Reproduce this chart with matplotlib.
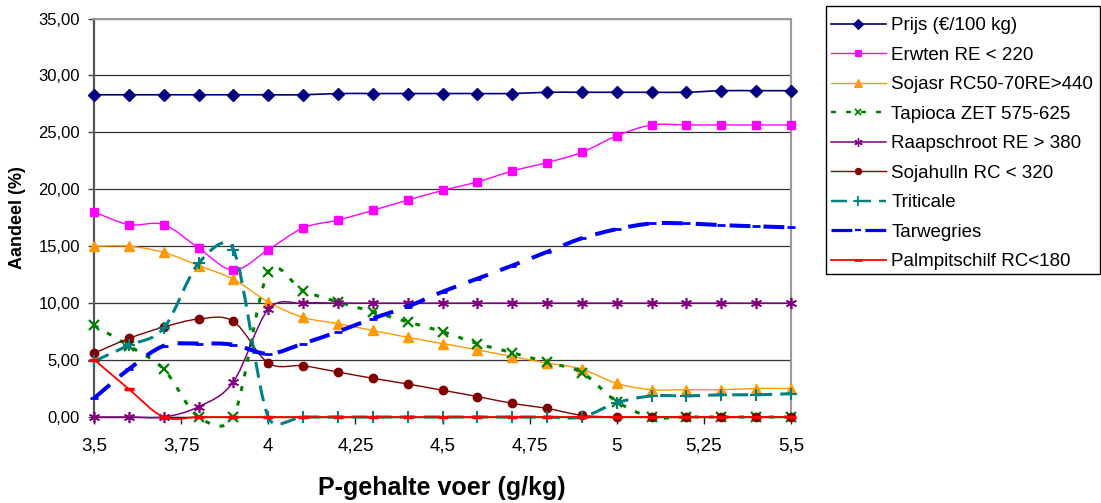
import numpy as np
import matplotlib
matplotlib.use("Agg")
import matplotlib.pyplot as plt
from matplotlib.path import Path
from matplotlib.patches import PathPatch, Rectangle
from matplotlib.lines import Line2D
from matplotlib.ticker import MultipleLocator, FuncFormatter

plt.rcParams['font.family'] = ['Liberation Sans', 'DejaVu Sans']
plt.rcParams['lines.scale_dashes'] = False

# P-gehalte voer (g/kg)
p_gehalte = [3.5, 3.6, 3.7, 3.8, 3.9, 4.0, 4.1, 4.2, 4.3, 4.4, 4.5,
             4.6, 4.7, 4.8, 4.9, 5.0, 5.1, 5.2, 5.3, 5.4, 5.5]

prijs = [28.30, 28.30, 28.30, 28.30, 28.30, 28.30, 28.30, 28.41, 28.41, 28.41, 28.41,
         28.41, 28.41, 28.52, 28.52, 28.52, 28.52, 28.52, 28.66, 28.66, 28.66]
erwten = [18.0, 16.9, 16.9, 14.85, 12.9, 14.7, 16.6, 17.3, 18.15, 19.05, 19.9,
          20.65, 21.6, 22.35, 23.25, 24.7, 25.65, 25.65, 25.65, 25.65, 25.65]
sojasr = [15.0, 15.0, 14.45, 13.3, 12.1, 10.1, 8.75, 8.2, 7.6, 7.0, 6.45,
          5.9, 5.3, 4.75, 4.2, 2.95, 2.4, 2.4, 2.4, 2.5, 2.5]
tapioca = [8.05, 6.25, 4.2, 0.0, 0.0, 12.7, 11.1, 10.1, 9.25, 8.35, 7.5,
           6.45, 5.65, 4.8, 3.9, 1.35, 0.0, 0.0, 0.0, 0.0, 0.0]
raapschroot = [0.0, 0.0, 0.0, 0.9, 3.1, 9.45, 10.0, 10.0, 10.0, 10.0, 10.0,
               10.0, 10.0, 10.0, 10.0, 10.0, 10.0, 10.0, 10.0, 10.0, 10.0]
sojahulln = [5.6, 6.9, 7.9, 8.6, 8.4, 4.75, 4.5, 3.95, 3.4, 2.9, 2.35,
             1.8, 1.2, 0.75, 0.15, 0.0, 0.0, 0.0, 0.0, 0.0, 0.0]
triticale = [4.9, 6.3, 7.8, 13.5, 14.7, 0.0, 0.0, 0.0, 0.0, 0.0, 0.0,
             0.0, 0.0, 0.0, 0.0, 1.25, 1.85, 1.85, 1.95, 1.95, 2.05]
tarwegries = [1.65, 4.2, 6.25, 6.45, 6.35, 5.55, 6.45, 7.5, 8.65, 9.7, 11.0,
              12.15, 13.3, 14.5, 15.7, 16.5, 17.0, 17.0, 16.85, 16.75, 16.65]
palmpitschilf = [5.05, 2.45, 0.0, 0.0, 0.0, 0.0, 0.0, 0.0, 0.0, 0.0, 0.0,
                 0.0, 0.0, 0.0, 0.0, 0.0, 0.0, 0.0, 0.0, 0.0, 0.0]

labels = ['Prijs (€/100 kg)', 'Erwten RE < 220', 'Sojasr RC50-70RE>440',
          'Tapioca ZET 575-625', 'Raapschroot RE > 380', 'Sojahulln RC < 320',
          'Triticale', 'Tarwegries', 'Palmpitschilf RC<180']

# axes box in figure pixels
X0, X1, Y0, Y1 = 94, 791, 18.5, 417
SX = (X1 - X0) / 2.0      # px per g/kg
SY = (Y1 - Y0) / 35.0     # px per %


def smooth_path(x, y):
    # excel style smoothing: bezier arms of 1/6, capped at half the segment (in pixels)
    pts = np.column_stack([x, y]).astype(float) * [SX, SY]
    n = len(pts)
    verts = [pts[0]]
    codes = [Path.MOVETO]
    for i in range(n - 1):
        p1 = pts[i]
        p2 = pts[i + 1]
        p0 = pts[i - 1] if i > 0 else p1
        p3 = pts[i + 2] if i + 2 < n else p2
        d12 = np.hypot(*(p2 - p1))
        d02 = np.hypot(*(p2 - p0))
        d13 = np.hypot(*(p3 - p1))
        f1 = 1 / 6 if i > 0 else 1 / 3
        f2 = 1 / 6 if i + 2 < n else 1 / 3
        if d02 * f1 > d12 / 2:
            f1 = d12 / 2 / d02
        if d13 * f2 > d12 / 2:
            f2 = d12 / 2 / d13
        verts += [p1 + (p2 - p0) * f1, p2 - (p3 - p1) * f2, p2]
        codes += [Path.CURVE4] * 3
    verts = np.array(verts) / [SX, SY]
    return Path(verts, codes)


# (values, color, linewidth, linestyle, marker, markersize, markeredgewidth)
series = [
    (prijs, '#000080', 1.2, '-', 'D', 6.5, 1.0),
    (erwten, '#FF00FF', 1.0, '-', 's', 5.5, 1.0),
    (sojasr, '#FF9900', 1.0, '-', '^', 7.5, 1.0),
    (tapioca, '#008000', 2.2, (0, (3.6, 7.2)), 'x', 6.5, 1.6),
    (raapschroot, '#800080', 1.1, '-', (6, 2, 0), 8, 1.2),
    (sojahulln, '#800000', 1.0, '-', 'o', 6, 1.0),
    (triticale, '#008080', 2.2, (0, (11.5, 5.8)), '+', 9, 1.5),
    (tarwegries, '#0000FF', 2.9, (0, (15, 9.4)), '_', 6, 2.0),
    (palmpitschilf, '#FF0000', 1.3, '-', '_', 7, 2.5),
]

fig = plt.figure(figsize=(11.01, 5.03), dpi=100)
ax = fig.add_axes([X0 / 1101, 1 - Y1 / 503, (X1 - X0) / 1101, (Y1 - Y0) / 503])

handles = []
for k, (vals, col, lw, ls, mk, ms, mew) in enumerate(series):
    patch = PathPatch(smooth_path(p_gehalte, vals), facecolor='none', edgecolor=col,
                      lw=lw, linestyle=ls, capstyle='butt', joinstyle='round',
                      clip_on=False, zorder=3 + k)
    ax.add_patch(patch)
    ax.plot(p_gehalte, vals, linestyle='none', marker=mk, markersize=ms,
            markerfacecolor=col, markeredgecolor=col, markeredgewidth=mew,
            clip_on=False, zorder=3 + k)
    handles.append(Line2D([], [], color=col, lw=lw if lw < 2 else lw * 0.8, linestyle=ls,
                          marker=mk, markersize=ms * 0.75,
                          markerfacecolor=col, markeredgecolor=col,
                          markeredgewidth=mew * 0.8))

ax.set_xlim(3.5, 5.5)
ax.set_ylim(0, 35)
ax.xaxis.set_major_locator(MultipleLocator(0.25))
ax.yaxis.set_major_locator(MultipleLocator(5))
ax.xaxis.set_major_formatter(FuncFormatter(lambda v, p: ('%g' % v).replace('.', ',')))
ax.yaxis.set_major_formatter(FuncFormatter(lambda v, p: ('%.2f' % v).replace('.', ',')))

ax.grid(axis='y', color='#333333', lw=0.9, zorder=1)
ax.set_axisbelow(True)
for side in ['top', 'right']:
    ax.spines[side].set_color('#999999')
    ax.spines[side].set_linewidth(1.5)
ax.spines['left'].set_color('#555555')
ax.spines['left'].set_linewidth(1.6)
ax.spines['bottom'].set_color('#222222')
ax.spines['bottom'].set_linewidth(1.0)

ax.tick_params(axis='y', direction='out', length=4, width=1, color='#444444',
               labelsize=12, pad=6)
ax.tick_params(axis='x', direction='out', length=5, width=1, color='#222222',
               labelsize=13.5, pad=10)

fig.text(441.5 / 1101, 1 - 488 / 503, 'P-gehalte voer (g/kg)', fontsize=18,
         fontweight='bold', ha='center', va='center')
fig.text(18 / 1101, 1 - 217.5 / 503, 'Aandeel (%)', fontsize=13,
         fontweight='bold', ha='center', va='center', rotation=90)

# legend without its own frame, box drawn separately
leg = ax.legend(handles, labels, loc='upper left',
                bbox_to_anchor=(824.7 / 1101, 1 - 10.5 / 503),
                bbox_transform=fig.transFigure, borderaxespad=0,
                fontsize=13.5, handlelength=2.9, handletextpad=0.3,
                labelspacing=0.66, borderpad=0.35, frameon=False)
fig.patches.append(Rectangle((826 / 1101, 1 - 274 / 503), (1100 - 826) / 1101,
                             (274 - 5.7) / 503, transform=fig.transFigure,
                             facecolor='none', edgecolor='black', lw=1.0))

fig.savefig('out.png', dpi=100)
